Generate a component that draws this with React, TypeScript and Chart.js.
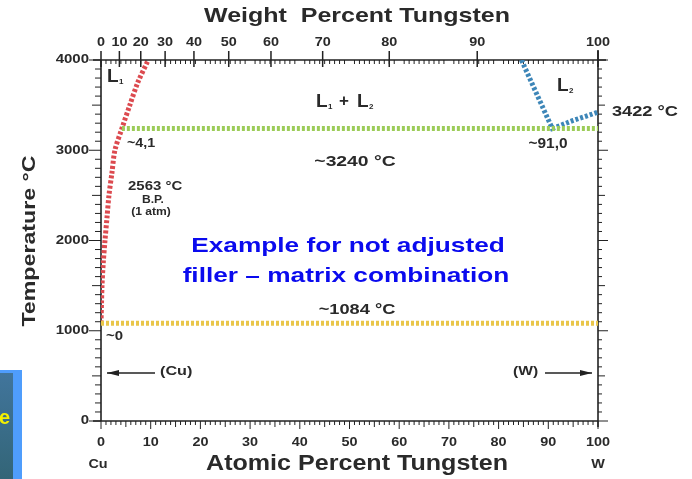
import React, { useEffect, useRef } from "react";
import { Chart, registerables } from "chart.js";
Chart.register(...registerables);

// ---- data ----
const atomicTicks = [0, 10, 20, 30, 40, 50, 60, 70, 80, 90, 100];
const tempTicks = [0, 1000, 2000, 3000, 4000];
const weightTickLabels = [0, 10, 20, 30, 40, 50, 60, 70, 80, 90, 100];
const weightTickAtomic = [0, 3.7, 8.0, 12.9, 18.7, 25.7, 34.2, 44.6, 58.0, 75.7, 100];

const cuLiqX = [0, 0.1, 0.2, 0.45, 0.8, 1.2, 1.6, 2.2, 2.8, 4.2, 5.8, 7.4, 9.5];
const cuLiqT = [1084, 1300, 1500, 1750, 2000, 2250, 2500, 2750, 3000, 3240, 3500, 3750, 4000];
const wLiqX = [84.6, 90.8, 95, 100];
const wLiqT = [4000, 3240, 3330, 3422];
const monoX = [4.2, 100];
const monoT = [3240, 3240];
const cuMeltX = [0, 100];
const cuMeltT = [1084, 1084];

const toPts = (xs: number[], ys: number[]) => xs.map((x, i) => ({ x, y: ys[i] }));

const FONT = '"Liberation Sans", Arial, sans-serif';

function txt(ctx: CanvasRenderingContext2D, s: string, x: number, y: number, o: any = {}) {
  const size = o.size || 13;
  const sx = o.sx || 1.2;
  ctx.save();
  ctx.font = `${o.bold === false ? "" : "bold "}${size}px ${FONT}`;
  ctx.fillStyle = o.color || "#2a2a2a";
  ctx.textBaseline = "middle";
  ctx.textAlign = o.align || "left";
  ctx.translate(x, y);
  ctx.scale(sx, 1);
  ctx.fillText(s, 0, 0);
  ctx.restore();
}

const axisPlugin = {
  id: "phaseAxes",
  beforeDatasetsDraw(chart: any) {
    const ctx = chart.ctx as CanvasRenderingContext2D;
    const xs = chart.scales.x;
    const ys = chart.scales.y;
    const L = xs.getPixelForValue(0), R = xs.getPixelForValue(100);
    const T = ys.getPixelForValue(4000), B = ys.getPixelForValue(0);
    ctx.save();
    ctx.strokeStyle = "#222";
    ctx.lineWidth = 1.6;
    ctx.beginPath();
    ctx.moveTo(L, T); ctx.lineTo(L, B);
    ctx.moveTo(R, T - 10); ctx.lineTo(R, B + 6);
    ctx.moveTo(L - 8, T); ctx.lineTo(R + 8, T);
    ctx.moveTo(L - 8, B); ctx.lineTo(R, B);
    ctx.stroke();
    ctx.lineWidth = 1;
    ctx.beginPath();
    for (let v = 0; v <= 100; v++) {
      const px = xs.getPixelForValue(v);
      const len = v % 10 === 0 ? 8 : v % 5 === 0 ? 6 : 4;
      ctx.moveTo(px, B); ctx.lineTo(px, B + len);
      if (v % 10 !== 0) { ctx.moveTo(px, T); ctx.lineTo(px, T + 4); }
    }
    for (let t = 0; t <= 4000; t += 100) {
      const py = ys.getPixelForValue(t);
      const len = t % 1000 === 0 ? 12 : t % 500 === 0 ? 9 : 6;
      ctx.moveTo(L - len, py); ctx.lineTo(L, py);
      ctx.moveTo(R, py); ctx.lineTo(R + len - 2, py);
    }
    ctx.stroke();
    ctx.lineWidth = 1.5;
    ctx.beginPath();
    weightTickAtomic.forEach((a) => {
      const px = xs.getPixelForValue(a);
      ctx.moveTo(px, T - 9); ctx.lineTo(px, T + 7);
    });
    ctx.stroke();
    ctx.restore();

    atomicTicks.forEach((v) => txt(ctx, String(v), xs.getPixelForValue(v), B + 22, { size: 12, align: "center" }));
    weightTickAtomic.forEach((a, i) =>
      txt(ctx, String(weightTickLabels[i]), xs.getPixelForValue(a), T - 17, { size: 12, align: "center" })
    );
    tempTicks.forEach((t) => txt(ctx, String(t), L - 12, ys.getPixelForValue(t), { size: 12, align: "right", sx: 1.25 }));
    txt(ctx, "Cu", xs.getPixelForValue(0) - 3, B + 44, { size: 12, align: "center" });
    txt(ctx, "W", xs.getPixelForValue(100), B + 44, { size: 12, align: "center" });

    txt(ctx, "Weight  Percent Tungsten", 357, 16, { size: 21, align: "center", sx: 1.19 });
    txt(ctx, "Atomic Percent Tungsten", 357, 464, { size: 22, align: "center", sx: 1.14 });
    ctx.save();
    ctx.translate(30, 241);
    ctx.rotate(-Math.PI / 2);
    txt(ctx, "Temperature °C", 0, 0, { size: 19, align: "center", sx: 1.22 });
    ctx.restore();
  },
  afterDatasetsDraw(chart: any) {
    const ctx = chart.ctx as CanvasRenderingContext2D;
    const ys = chart.scales.y;
    const sub = (base: string, s: string, x: number, y: number) => {
      txt(ctx, base, x, y, { size: 19, sx: 1.0 });
      txt(ctx, s, x + 12, y + 5, { size: 8, sx: 1.0 });
    };
    sub("L", "1", 107, 77);
    sub("L", "1", 316, 102);
    txt(ctx, "+", 339, 101, { size: 17, sx: 1.0 });
    sub("L", "2", 357, 102);
    sub("L", "2", 557, 86);

    txt(ctx, "3422 °C", 612, ys.getPixelForValue(3422), { size: 14, sx: 1.3 });
    txt(ctx, "~4,1", 127, 143, { size: 13, sx: 1.1 });
    txt(ctx, "~3240 °C", 355, 162, { size: 14, align: "center", sx: 1.38 });
    txt(ctx, "~91,0", 548, 144, { size: 14, align: "center", sx: 1.1 });
    txt(ctx, "2563 °C", 128, 186, { size: 13, sx: 1.15 });
    txt(ctx, "B.P.", 153, 200, { size: 11, align: "center", sx: 1.1 });
    txt(ctx, "(1 atm)", 151, 212, { size: 11, align: "center", sx: 1.1 });
    txt(ctx, "~1084 °C", 357, 310, { size: 14, align: "center", sx: 1.3 });
    txt(ctx, "~0", 106, 336, { size: 13, sx: 1.15 });

    txt(ctx, "Example for not adjusted", 348, 246, { size: 21, align: "center", sx: 1.25, color: "#0a0aee" });
    txt(ctx, "filler – matrix combination", 346, 276, { size: 21, align: "center", sx: 1.25, color: "#0a0aee" });

    const arrow = (x1: number, x2: number, y: number) => {
      ctx.save();
      ctx.strokeStyle = "#222";
      ctx.fillStyle = "#222";
      ctx.lineWidth = 1.5;
      ctx.beginPath();
      ctx.moveTo(x1, y); ctx.lineTo(x2, y); ctx.stroke();
      const d = Math.sign(x2 - x1);
      ctx.beginPath();
      ctx.moveTo(x2, y);
      ctx.lineTo(x2 - d * 12, y - 3);
      ctx.lineTo(x2 - d * 12, y + 3);
      ctx.closePath();
      ctx.fill();
      ctx.restore();
    };
    arrow(155, 107, 373);
    txt(ctx, "(Cu)", 160, 372, { size: 12, sx: 1.35 });
    txt(ctx, "(W)", 513, 372, { size: 12, sx: 1.3 });
    arrow(545, 592, 373);
  },
};

const boxPlugin = {
  id: "sideBox",
  afterDraw(chart: any) {
    const ctx = chart.ctx as CanvasRenderingContext2D;
    ctx.save();
    ctx.fillStyle = "#4f9dfc";
    ctx.fillRect(0, 370, 22, 109);
    const g = ctx.createLinearGradient(0, 373, 0, 479);
    g.addColorStop(0, "#41759c");
    g.addColorStop(1, "#336577");
    ctx.fillStyle = g;
    ctx.fillRect(0, 373, 13, 106);
    ctx.font = `bold 20px ${FONT}`;
    ctx.fillStyle = "#f4f000";
    ctx.textBaseline = "middle";
    ctx.fillText("e", -1, 418);
    ctx.restore();
  },
};

export default function App() {
  const ref = useRef<HTMLCanvasElement>(null);
  useEffect(() => {
    if (!ref.current) return;
    const dotted = (color: string, width: number) => ({
      showLine: true,
      borderColor: color,
      borderWidth: width,
      borderDash: [3, 2],
      pointRadius: 0,
      fill: false,
      tension: 0,
    });
    const chart = new Chart(ref.current, {
      type: "scatter",
      data: {
        datasets: [
          { data: toPts(cuMeltX, cuMeltT), ...dotted("#e9c64a", 5) },
          { data: toPts(monoX, monoT), ...dotted("#9ccc58", 5) },
          { data: toPts(cuLiqX, cuLiqT), ...dotted("#dc4a4f", 5), tension: 0.3 },
          { data: toPts(wLiqX, wLiqT), ...dotted("#3d86b8", 5) },
        ],
      },
      options: {
        animation: false,
        responsive: false,
        devicePixelRatio: 1,
        layout: { padding: { left: 101, right: 94, top: 60, bottom: 58 } },
        plugins: { legend: { display: false }, tooltip: { enabled: false } },
        scales: {
          x: { type: "linear", min: 0, max: 100, display: false },
          y: { type: "linear", min: 0, max: 4000, display: false },
        },
      },
      plugins: [axisPlugin, boxPlugin],
    });
    return () => chart.destroy();
  }, []);
  return (
    <div style={{ position: "fixed", left: 0, top: 0, width: 692, height: 479, background: "#fff" }}>
      <canvas ref={ref} width={692} height={479} style={{ display: "block" }} />
    </div>
  );
}
